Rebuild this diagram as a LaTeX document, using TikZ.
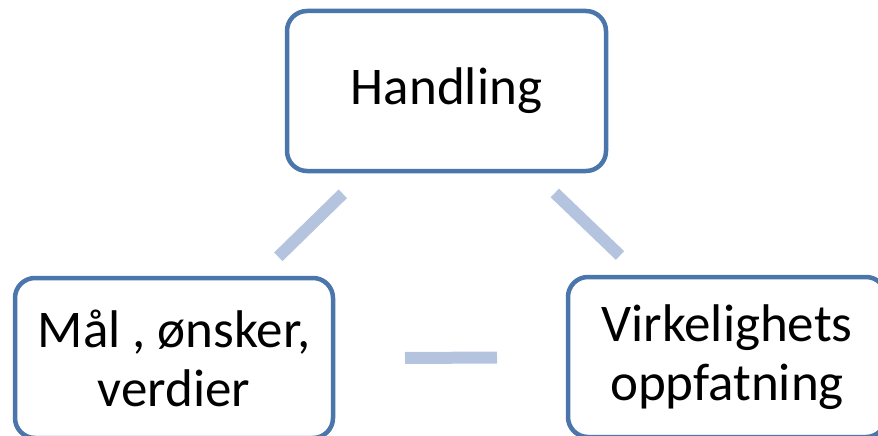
\documentclass[tikz,border=0pt]{standalone}
\usepackage{fontspec}
\setmainfont{Carlito}
\definecolor{boxblue}{RGB}{74,118,172}
\definecolor{linkblue}{RGB}{180,196,222}
\begin{document}
\begin{tikzpicture}[x=1pt,y=-1pt,
  box/.style={draw=boxblue,line width=4.5pt,rounded corners=20pt,fill=white,
    minimum width=318pt,minimum height=160pt,align=center,inner sep=0pt,
    font=\fontsize{53}{59}\selectfont},
  link/.style={draw=linkblue,line width=12pt}]
\useasboundingbox (0,0) rectangle (878,436);
\clip (0,0) rectangle (878,436);
\node[box,minimum width=319pt] (hand) at (446.5,91) {Handling};
\node[box] (maal) at (174,358) {Mål , ønsker,\\verdier};
\node[box] (virk) at (727,357) {Virkelighets\\oppfatning};
\coordinate (l1) at (342.8,193.8);
\coordinate (l2) at (278.3,256.8);
\coordinate (r1) at (554.8,193);
\coordinate (r2) at (620,255.5);
\coordinate (m1) at (405,358);
\coordinate (m2) at (497,357.5);
\draw[link] (l1) -- (l2);
\draw[link] (r1) -- (r2);
\draw[link] (m1) -- (m2);
\end{tikzpicture}
\end{document}
